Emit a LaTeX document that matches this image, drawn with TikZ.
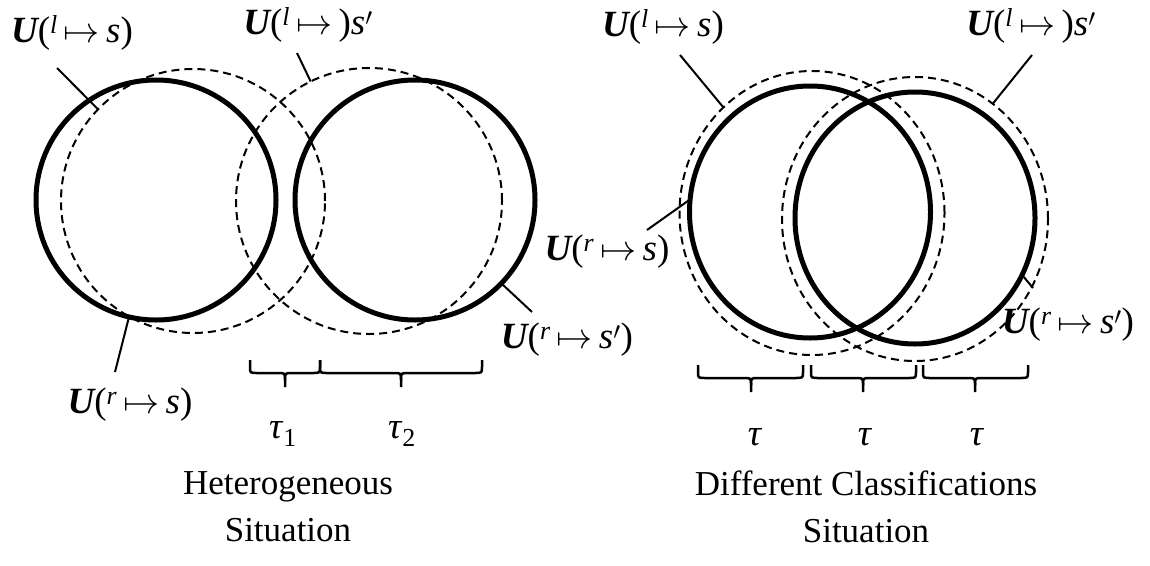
\documentclass[tikz,border=0pt]{standalone}
\usepackage{graphicx}
\usepackage{fontspec}
\setmainfont{Liberation Serif}
\usetikzlibrary{shapes.geometric}
\newcommand\Uarr{\,\scalebox{1.45}{$\mapsto$}\,}
\newcommand\Ulab[2]{{\bfseries\itshape U}(\textsuperscript{\itshape #1}\Uarr\textit{#2})}
\newcommand\Ulabp{{\bfseries\itshape U}(\textsuperscript{\itshape l}\Uarr)\textit{s}$'$}
\newcommand\Ulabrp{{\bfseries\itshape U}(\textsuperscript{\itshape r}\Uarr\textit{s}$'$)}
\newcommand\Brace[4]{%
  \draw[brc] (#1,#4) -- (#1,#4+7) .. controls (#1,#4+13) .. (#1+8,#4+13) -- (#3-7,#4+13) .. controls (#3,#4+13) .. (#3,#4+20) -- (#3,#4+27);
  \draw[brc] (#2,#4) -- (#2,#4+7) .. controls (#2,#4+13) .. (#2-8,#4+13) -- (#3+7,#4+13) .. controls (#3,#4+13) .. (#3,#4+20);
}
\begin{document}
\begin{tikzpicture}[x=1pt,y=-1pt,
  thickc/.style={draw, line width=5pt, inner sep=0pt, outer sep=0pt},
  dashc/.style={draw, line width=2pt, dash pattern=on 8pt off 5pt, inner sep=0pt, outer sep=0pt},
  leader/.style={line width=2pt},
  lab/.style={font=\fontsize{37}{44}\selectfont, inner sep=0pt},
  ttl/.style={font=\fontsize{35}{47}\selectfont, align=center, inner sep=0pt},
  brc/.style={line width=2.5pt}]
\fill[white] (0,0) rectangle (1150,565);
\useasboundingbox (0,0) rectangle (1150,565);

% left figure
\node[circle, dashc, minimum size=264pt] (d1) at (193,201) {};
\node[circle, dashc, minimum size=266pt] (d2) at (369,201) {};
\node[circle, thickc, minimum size=240pt] (c1) at (156,200) {};
\node[circle, thickc, minimum size=240pt] (c2) at (415,200) {};

\node[lab] (L1) at (72,33) {\Ulab{l}{s}};
\node[lab] (L2) at (308,25) {\Ulabp};
\node[lab] (L3) at (130,405) {\Ulab{r}{s}};
\node[lab] (L4) at (567,340) {\Ulabrp};

\coordinate (p1) at (57,68);
\coordinate (p2) at (297,53);
\coordinate (p3) at (115,372);
\coordinate (p4) at (532,312);
\draw[leader] (p1) -- (d1.136);
\draw[leader] (p2) -- (d2.116);
\draw[leader] (p3) -- (c1.257);
\draw[leader] (p4) -- (c2.316);

\Brace{250}{320}{285}{360}
\Brace{320}{482}{401}{360}
\node[lab] (t1) at (283,434) {\textit{τ}\textsubscript{1}};
\node[lab] (t2) at (402,434) {\textit{τ}\textsubscript{2}};

\node[ttl] (T1) at (288,507) {Heterogeneous\\Situation};

% right figure
\node[ellipse, dashc, minimum width=265pt, minimum height=284pt] (f3) at (812,213) {};
\node[ellipse, dashc, minimum width=266pt, minimum height=284pt] (f4) at (915,219) {};
\node[ellipse, thickc, minimum width=241pt, minimum height=252pt] (e3) at (810,212) {};
\node[ellipse, thickc, minimum width=240pt, minimum height=252pt] (e4) at (915,218) {};

\node[lab] (R1) at (663,27) {\Ulab{l}{s}};
\node[lab] (R2) at (1031,26) {\Ulabp};
\node[lab] (R3) at (607,252) {\Ulab{r}{s}};
\node[lab] (R4) at (1068,325) {\Ulabrp};

\coordinate (q1) at (680,55);
\coordinate (q2) at (1032,55);
\coordinate (q3) at (647,230);
\coordinate (q4) at (1033,288);
\draw[leader] (q1) -- (f3.130.5);
\draw[leader] (q2) -- (f4.56.2);
\draw[leader] (q3) -- (e3.174.4);
\draw[leader] (q4) -- (e4.332.5);

\Brace{698}{803}{751}{365}
\Brace{811}{916}{863}{365}
\Brace{923}{1028}{975}{365}
\node[lab] (u1) at (755,437) {\textit{τ}};
\node[lab] (u2) at (865,437) {\textit{τ}};
\node[lab] (u3) at (977,437) {\textit{τ}};

\node[ttl] (T2) at (866,507) {Different Classifications\\Situation};
\end{tikzpicture}
\end{document}
